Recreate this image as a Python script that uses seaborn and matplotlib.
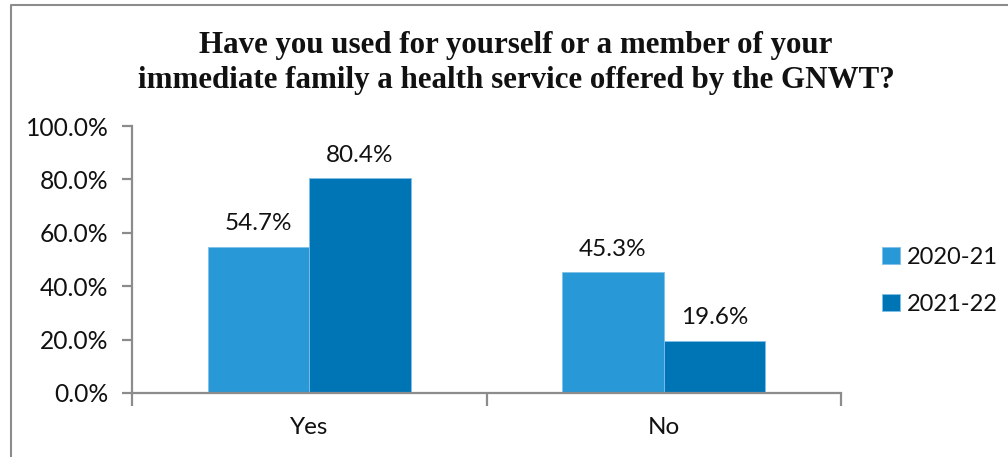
import matplotlib
matplotlib.use("Agg")
import matplotlib.pyplot as plt
from matplotlib.lines import Line2D
from matplotlib.ticker import FixedLocator, PercentFormatter
import pandas as pd
import seaborn as sns

# Survey responses, percent of respondents
answers = ["Yes", "No"]
years = ["2020-21", "2021-22"]
pct_2020_21 = [54.7, 45.3]
pct_2021_22 = [80.4, 19.6]
year_colors = ["#2898D6", "#0075B6"]
title = ("Have you used for yourself or a member of your\n"
         "immediate family a health service offered by the GNWT?")

df = pd.DataFrame({
    "answer": answers * 2,
    "year": [years[0]] * 2 + [years[1]] * 2,
    "pct": pct_2020_21 + pct_2021_22,
})

sns.set_theme(style="white")
plt.rcParams["font.family"] = ["Lato", "DejaVu Sans"]

fig = plt.figure(figsize=(10.08, 4.57), dpi=100)
ax = fig.add_axes([132 / 1008, 1 - 393 / 457, (841 - 132) / 1008, (393 - 126) / 457])

sns.barplot(data=df, x="answer", y="pct", hue="year", order=answers,
            hue_order=years, palette=year_colors, saturation=1, width=0.573,
            edgecolor="#7FC1E8", linewidth=0.6, ax=ax)

# value labels above each bar
for cont in ax.containers:
    ax.bar_label(cont, labels=[f"{v:.1f}%" for v in cont.datavalues],
                 padding=9, fontsize=17.5, color="#111111")

ax.set_xlim(-0.5, 1.5)
ax.set_ylim(0, 100)
ax.yaxis.set_major_locator(FixedLocator([0, 20, 40, 60, 80, 100]))
ax.yaxis.set_major_formatter(PercentFormatter(decimals=1))
ax.xaxis.set_minor_locator(FixedLocator([-0.5, 0.5, 1.5]))
ax.set_xlabel("")
ax.set_ylabel("")

spine_color = "#8C8C8C"
for side in ["top", "right"]:
    ax.spines[side].set_visible(False)
for side in ["left", "bottom"]:
    ax.spines[side].set_color(spine_color)
    ax.spines[side].set_linewidth(1.6)

ax.tick_params(axis="y", which="major", direction="out", length=7, width=1.6,
               color=spine_color, labelsize=17.7, labelcolor="#111111", pad=10, left=True)
ax.tick_params(axis="x", which="major", length=0, labelsize=17.5,
               labelcolor="#111111", pad=17)
ax.tick_params(axis="x", which="minor", direction="out", length=9, width=1.6,
               color=spine_color, bottom=True)

leg = ax.legend(loc="center left", bbox_to_anchor=(1.045, 0.42), frameon=False,
                fontsize=17, handlelength=0.75, handleheight=0.75,
                handletextpad=0.3, labelspacing=1.1, borderaxespad=0)
for t in leg.get_texts():
    t.set_color("#111111")

fig.text(0.512, 0.862, title, ha="center", va="center", fontsize=22.3,
         fontweight="bold", family=["Liberation Serif", "DejaVu Serif"],
         linespacing=1.25, color="#111111")

# chart area frame
fig.add_artist(Line2D([10.5 / 1008, 10.5 / 1008, 1.0], [0.0, 1 - 4.5 / 457, 1 - 4.5 / 457],
                      transform=fig.transFigure, color="#8C8C8C", lw=1.5))

fig.savefig("out.png", dpi=100, facecolor="white")
